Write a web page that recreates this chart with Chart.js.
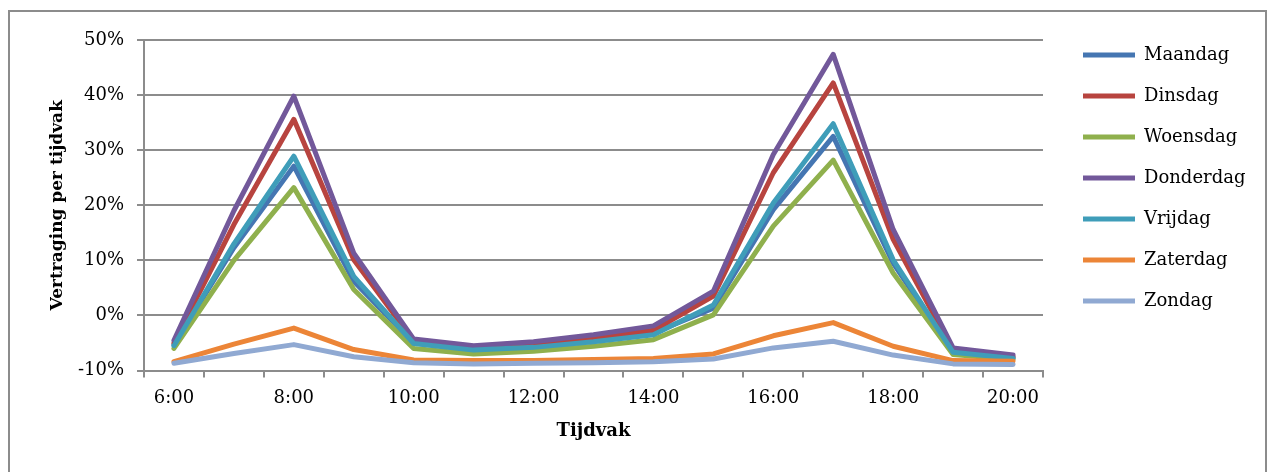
<!DOCTYPE html>
<html>
<head>
<meta charset="utf-8">
<script src="https://cdn.jsdelivr.net/npm/chart.js@4.4.1/dist/chart.umd.min.js"></script>
<style>
  html, body { margin: 0; padding: 0; background: #fff; }
  #wrap { position: relative; width: 1268px; height: 472px; overflow: hidden; }
  #frame { position: absolute; left: 8px; top: 10px; width: 1255px; height: 480px; border: 2px solid #8c8c8c; }
  canvas { position: absolute; left: 0; top: 0; }
</style>
</head>
<body>
<div id="wrap">
  <div id="frame"></div>
  <canvas id="myChart" width="1268" height="472"></canvas>
</div>
<script>
// hourly time slots, only every other one gets a label on the axis
const hours = ['6:00', '7:00', '8:00', '9:00', '10:00', '11:00', '12:00', '13:00',
               '14:00', '15:00', '16:00', '17:00', '18:00', '19:00', '20:00'];

// delay per time slot, in percent
const maandag   = [-5.3, 12.3, 27.1, 6.2, -5.0, -6.2, -5.6, -4.6, -3.2, 1.3, 19.2, 32.5, 9.5, -6.8, -7.7];
const dinsdag   = [-5.0, 16.5, 35.6, 10.1, -4.6, -5.8, -5.2, -4.0, -2.7, 3.5, 25.9, 42.2, 13.8, -6.4, -7.5];
const woensdag  = [-6.0, 10.0, 23.2, 4.7, -6.0, -7.0, -6.5, -5.6, -4.4, 0.1, 16.2, 28.2, 7.7, -7.1, -8.0];
const donderdag = [-4.5, 19.0, 39.8, 11.3, -4.3, -5.5, -4.8, -3.5, -1.9, 4.4, 29.2, 47.4, 15.6, -5.9, -7.2];
const vrijdag   = [-5.5, 13.0, 28.9, 7.1, -5.1, -6.3, -5.8, -4.8, -3.5, 1.9, 20.4, 34.8, 10.1, -6.7, -7.8];
const zaterdag  = [-8.4, -5.2, -2.3, -6.2, -8.1, -8.2, -8.2, -8.0, -7.8, -7.0, -3.7, -1.3, -5.6, -8.2, -8.3];
const zondag    = [-8.7, -6.9, -5.3, -7.5, -8.6, -8.8, -8.7, -8.6, -8.4, -7.9, -5.9, -4.7, -7.2, -8.8, -8.9];

const yTicks = [-10, 0, 10, 20, 30, 40, 50];

const fam = "'DejaVu Serif', serif";
const grey = '#8c8c8c';

const series = [
    ['Maandag', maandag, '#4576b2'],
    ['Dinsdag', dinsdag, '#b8443f'],
    ['Woensdag', woensdag, '#8fb04d'],
    ['Donderdag', donderdag, '#72589a'],
    ['Vrijdag', vrijdag, '#3f9db9'],
    ['Zaterdag', zaterdag, '#ec8537'],
    ['Zondag', zondag, '#90a9d2']
];

// excel draws the later series on top, chart.js the other way round
const datasets = series.map((s, i) => ({
    label: s[0],
    data: s[1],
    borderColor: s[2],
    backgroundColor: s[2],
    borderWidth: 5,
    pointRadius: 0,
    tension: 0,
    borderJoinStyle: 'round',
    borderCapStyle: 'round',
    order: series.length - i
}));

// put the legend where excel has it
const legendPlace = {
    id: 'legendPlace',
    afterLayout(chart) {
        const lg = chart.legend;
        const w = lg.width, h = lg.height;
        lg.left = 1060; lg.right = lg.left + w;
        lg.top = 23; lg.bottom = lg.top + h;
    }
};

const ctx = document.getElementById('myChart').getContext('2d');
new Chart(ctx, {
    type: 'line',
    data: { labels: hours, datasets: datasets },
    plugins: [legendPlace],
    options: {
        responsive: false,
        animation: false,
        devicePixelRatio: 1,
        layout: { padding: { left: 0, top: 40, right: 0, bottom: 0 } },
        plugins: {
            tooltip: { enabled: false },
            legend: {
                position: 'right',
                align: 'start',
                labels: {
                    boxWidth: 52,
                    boxHeight: 5,
                    padding: 23,
                    color: '#000',
                    font: { family: fam, size: 18 },
                    sort: (a, b) => a.datasetIndex - b.datasetIndex,
                    generateLabels(chart) {
                        const items = Chart.defaults.plugins.legend.labels.generateLabels(chart);
                        items.forEach(it => { it.lineWidth = 0; it.fillStyle = it.strokeStyle; });
                        return items;
                    }
                }
            }
        },
        scales: {
            x: {
                offset: true,
                grid: { offset: true, drawOnChartArea: false, drawTicks: true, tickLength: 7, color: grey, lineWidth: 2 },
                border: { color: grey, width: 2 },
                ticks: {
                    autoSkip: false,
                    maxRotation: 0,
                    color: '#000',
                    padding: 10,
                    font: { family: fam, size: 18 },
                    callback: function(v, i) { return i % 2 === 0 ? this.getLabelForValue(v) : ''; }
                },
                title: {
                    display: true,
                    text: 'Tijdvak',
                    color: '#000',
                    font: { family: fam, size: 18, weight: 'bold' },
                    padding: { top: 0, bottom: 30 }
                },
                afterFit: s => { s.height = 101.5; s.paddingRight = 225; }
            },
            y: {
                min: yTicks[0],
                max: yTicks[yTicks.length - 1],
                afterBuildTicks: s => { s.ticks = yTicks.map(v => ({ value: v })); },
                grid: { color: grey, lineWidth: 2, tickLength: 7, drawTicks: true },
                border: { color: grey, width: 2 },
                ticks: {
                    color: '#000',
                    padding: 13,
                    font: { family: fam, size: 18 },
                    callback: v => v + '%'
                },
                title: {
                    display: true,
                    text: 'Vertraging per tijdvak',
                    color: '#000',
                    font: { family: fam, size: 17, weight: 'bold' },
                    padding: { top: 47, bottom: 0 }
                },
                afterFit: s => { s.width = 144; }
            }
        }
    }
});
</script>
</body>
</html>
